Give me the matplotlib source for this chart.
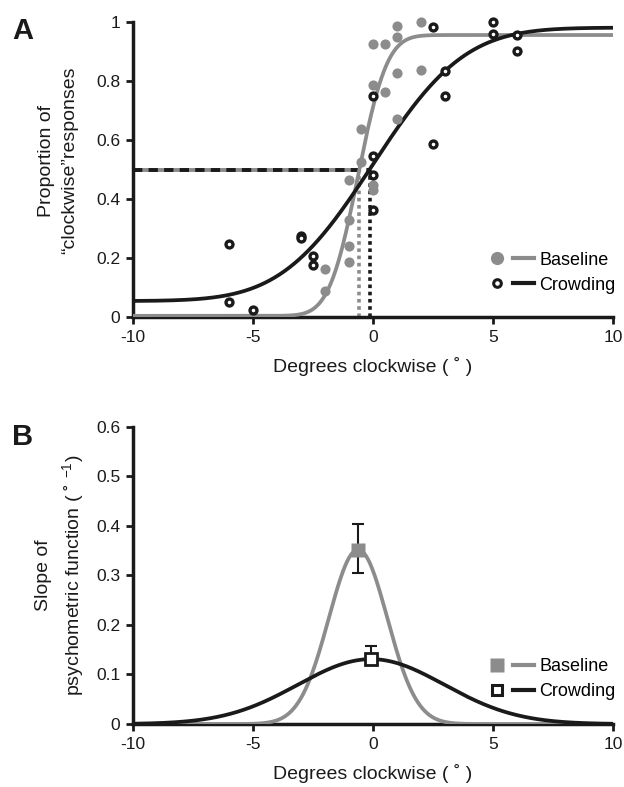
import math
import numpy as np
import matplotlib
matplotlib.use('Agg')
import matplotlib.pyplot as plt
from matplotlib.lines import Line2D
from matplotlib.legend_handler import HandlerTuple

plt.rcParams['font.family'] = ['Liberation Sans', 'DejaVu Sans']
plt.rcParams['mathtext.fontset'] = 'custom'
plt.rcParams['mathtext.rm'] = 'Liberation Sans'
plt.rcParams['axes.unicode_minus'] = False

GREY = '#8c8c8c'
BLACK = '#1a1a1a'

# panel A: proportion "clockwise" per condition
base_x = [0, 0.5, 1, 1, 2, 2, 1, 0, 0.5, 1, -0.5, -0.5, -1, 0, 0, -1, -1, -1, -2, -2]
base_y = [0.923, 0.923, 0.985, 0.947, 1.0, 0.836, 0.825, 0.786, 0.763, 0.671,
          0.638, 0.524, 0.464, 0.447, 0.43, 0.329, 0.241, 0.188, 0.162, 0.089]
crowd_x = [2.5, 5, 5, 6, 6, 3, 3, 0, 2.5, 0, 0, 0, -3, -3, -2.5, -2.5, -6, -6, -5]
crowd_y = [0.983, 1.0, 0.96, 0.956, 0.9, 0.833, 0.75, 0.748, 0.586, 0.545,
           0.48, 0.364, 0.276, 0.268, 0.206, 0.178, 0.248, 0.052, 0.024]

# cumulative gaussian fits: mean, sd, lower, upper asymptote
base_fit = [-0.62, 0.95, 0.005, 0.955]
crowd_fit = [0.0, 3.0, 0.055, 0.98]
thresholds = [-0.57, -0.14]   # 50% points (baseline, crowding)

# panel B: slope at threshold
slope_x = [-0.62, -0.08]
slope_y = [0.352, 0.131]
slope_err_lo = [0.048, 0.012]
slope_err_hi = [0.051, 0.027]
slope_sd = [1.22, 3.05]

xticks = [-10, -5, 0, 5, 10]


def cum_gauss(x, mu, sd, lo, hi):
    erf = np.vectorize(math.erf)
    return lo + (hi - lo) * 0.5 * (1 + erf((x - mu) / (sd * np.sqrt(2))))


def style_axes(ax, yticks, ylim):
    for s in ['top', 'right']:
        ax.spines[s].set_visible(False)
    for s in ['left', 'bottom']:
        ax.spines[s].set_linewidth(2.5)
        ax.spines[s].set_color(BLACK)
    ax.set_xlim(-10, 10)
    ax.set_ylim(*ylim)
    ax.set_xticks(xticks)
    ax.set_xticklabels([str(t) for t in xticks])
    ax.set_yticks(yticks)
    ax.set_yticklabels(['0'] + ['%g' % t for t in yticks[1:]])
    ax.tick_params(direction='out', length=5, width=2, labelsize=12.5,
                   colors=BLACK, pad=4)


def legend(ax, marker):
    handles = [(Line2D([], [], marker=marker, ls='none', color=GREY, ms=9.5, mec='none'),
                Line2D([], [], color=GREY, lw=3)),
               (Line2D([], [], marker=marker, ls='none', mfc='white', mec=BLACK,
                       mew=2.2, ms=7 if marker == 's' else 5.5),
                Line2D([], [], color=BLACK, lw=3))]
    ax.legend(handles, ['Baseline', 'Crowding'],
              handler_map={tuple: HandlerTuple(ndivide=None, pad=0.3)},
              loc='lower right', bbox_to_anchor=(1.005, 0.08), frameon=False,
              fontsize=13, handlelength=2.6, handletextpad=0.3, labelspacing=0.45,
              borderpad=0, borderaxespad=0)


fig = plt.figure(figsize=(6.24, 7.87), dpi=100)
axA = fig.add_axes([0.2131, 0.5968, 0.7692, 0.3756])
axB = fig.add_axes([0.2131, 0.0800, 0.7692, 0.3778])

xs = np.linspace(-10, 10, 600)

# ---- panel A
axA.plot([-10, thresholds[0]], [0.5, 0.5], color=GREY, lw=2.8, zorder=2)
axA.plot([-10, thresholds[1]], [0.5, 0.5], color=BLACK, lw=2.8,
         linestyle=(0, (2.4, 1.6)), zorder=2.1)
axA.plot([thresholds[0]] * 2, [0, 0.5], color=GREY, lw=2.6,
         linestyle=(0, (1, 1)), zorder=2)
axA.plot([thresholds[1]] * 2, [0, 0.5], color=BLACK, lw=2.6,
         linestyle=(0, (1, 1)), zorder=2)
axA.plot(xs, cum_gauss(xs, *base_fit), color=GREY, lw=2.7, zorder=3)
axA.plot(xs, cum_gauss(xs, *crowd_fit), color=BLACK, lw=2.7, zorder=3)
axA.plot(base_x, base_y, 'o', color=GREY, ms=7.3, mec='none', zorder=4, clip_on=False)
axA.plot(crowd_x, crowd_y, 'o', mfc='white', mec=BLACK, mew=2.4, ms=5,
         zorder=5, clip_on=False)
style_axes(axA, [0, 0.2, 0.4, 0.6, 0.8, 1.0], (0, 1))
axA.set_xlabel('Degrees clockwise ( ˚ )', fontsize=14, color=BLACK, labelpad=9)
axA.set_ylabel('Proportion of\n\u201cclockwise\u201dresponses', fontsize=14,
               color=BLACK, linespacing=1.45)
axA.yaxis.set_label_coords(-0.115, 0.53)
legend(axA, 'o')

# ---- panel B
for mu, sd, pk, col in zip(slope_x, slope_sd, slope_y, [GREY, BLACK]):
    axB.plot(xs, pk * np.exp(-0.5 * ((xs - mu) / sd) ** 2), color=col, lw=2.7, zorder=3)
axB.errorbar(slope_x, slope_y, yerr=[slope_err_lo, slope_err_hi], fmt='none',
             ecolor=BLACK, elinewidth=1.5, capsize=4, capthick=1.5, zorder=4)
axB.plot(slope_x[0], slope_y[0], 's', color=GREY, ms=10, mec='none', zorder=5)
axB.plot(slope_x[1], slope_y[1], 's', mfc='white', mec=BLACK, mew=2, ms=8, zorder=5)
style_axes(axB, [0, 0.1, 0.2, 0.3, 0.4, 0.5, 0.6], (0, 0.6))
axB.set_xlabel('Degrees clockwise ( ˚ )', fontsize=14, color=BLACK, labelpad=9)
axB.set_ylabel('Slope of\npsychometric function ( ˚ $^{-1}$)', fontsize=14,
               color=BLACK, linespacing=1.45)
axB.yaxis.set_label_coords(-0.095, 0.5)
legend(axB, 's')

fig.text(0.019, 0.978, 'A', fontsize=21, fontweight='bold', va='top', ha='left', color=BLACK)
fig.text(0.019, 0.462, 'B', fontsize=21, fontweight='bold', va='top', ha='left', color=BLACK)

fig.savefig('out.png', dpi=100)
